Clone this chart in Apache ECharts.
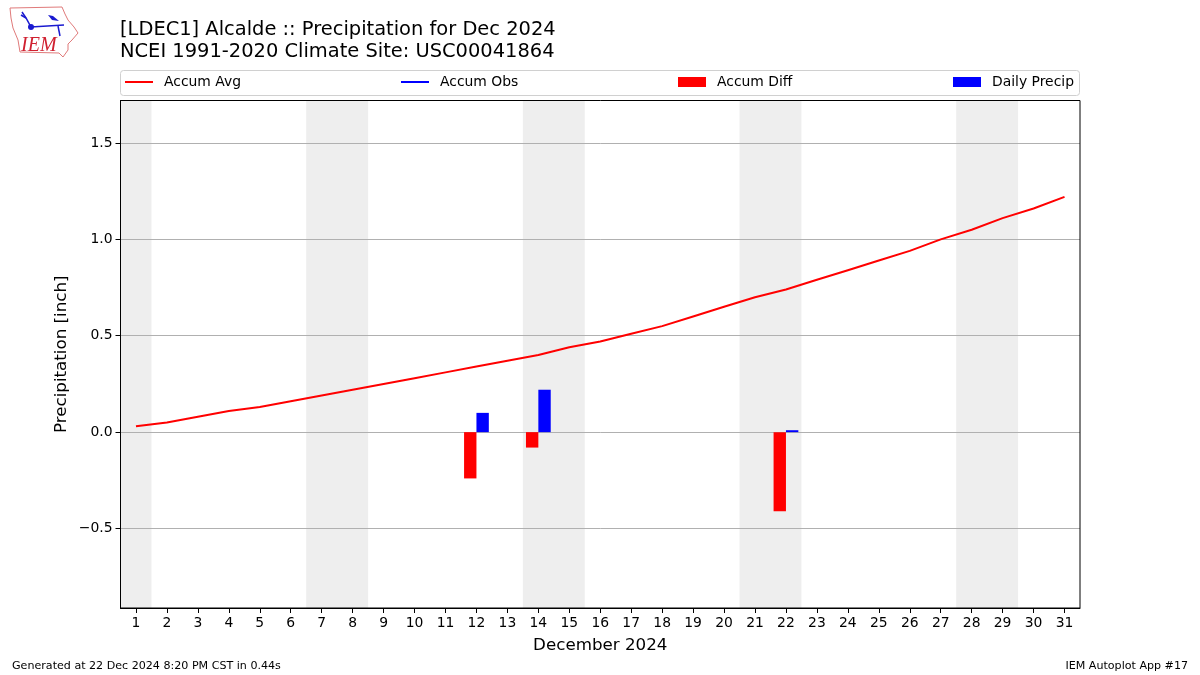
<!DOCTYPE html>
<html>
<head>
<meta charset="utf-8">
<title>Precipitation for Dec 2024</title>
<style>
	html, body { margin: 0; padding: 0; background: #fff; }
	#chart { width: 1200px; height: 675px; }
</style>
<script src="https://cdn.jsdelivr.net/npm/echarts@6/dist/echarts.min.js"></script>
</head>
<body>
<div id="chart"></div>
<script>
	const days = ['1', '2', '3', '4', '5', '6', '7', '8', '9', '10', '11', '12', '13', '14', '15', '16',
		'17', '18', '19', '20', '21', '22', '23', '24', '25', '26', '27', '28', '29', '30', '31'];
	const accumAvg = [0.03, 0.05, 0.08, 0.11, 0.13, 0.16, 0.19, 0.22, 0.25, 0.28, 0.31, 0.34, 0.37, 0.40, 0.44, 0.47,
		0.51, 0.55, 0.60, 0.65, 0.70, 0.74, 0.79, 0.84, 0.89, 0.94, 1.00, 1.05, 1.11, 1.16, 1.22];
	const accumObs = days.map(() => null); // nothing drawn for obs in the reference
	const accumDiff = [null, null, null, null, null, null, null, null, null, null, null, -0.24, null, -0.08, null, null,
		null, null, null, null, null, -0.41, null, null, null, null, null, null, null, null, null];
	const dailyPrecip = [null, null, null, null, null, null, null, null, null, null, null, 0.10, null, 0.22, null, null,
		null, null, null, null, null, 0.01, null, null, null, null, null, null, null, null, null];
	const weekends = [[0.5, 1.5], [6.5, 8.5], [13.5, 15.5], [20.5, 22.5], [27.5, 29.5]];
	const yTicks = [-0.5, 0, 0.5, 1, 1.5];

	const font = '"DejaVu Sans"';
	const chart = echarts.init(document.getElementById('chart'), null, { renderer: 'canvas' });

	// state outline for the logo, page pixels
	const logoOutline = [[10, 8], [62, 7], [65, 14], [68, 20], [74, 27], [78, 33], [72, 40], [68, 44], [68, 50],
		[63, 57], [59, 53], [20, 52], [18, 40], [13, 28], [11, 18]];

	function legendAt(name, left, itemHeight) {
		return {
			data: [name],
			left: left,
			top: 75,
			padding: 0,
			icon: 'rect',
			itemWidth: 28,
			itemHeight: itemHeight,
			itemGap: 0,
			selectedMode: false,
			textStyle: { fontFamily: font, fontSize: 13.9, color: '#000', padding: [0, 0, 0, 6] }
		};
	}

	chart.setOption({
		animation: false,
		backgroundColor: '#fff',
		title: [{
			text: '[LDEC1] Alcalde :: Precipitation for Dec 2024\nNCEI 1991-2020 Climate Site: USC00041864',
			left: 120,
			top: 19,
			padding: 0,
			textStyle: { fontFamily: font, fontSize: 19.45, fontWeight: 'normal', color: '#000', lineHeight: 22 }
		}, {
			text: 'Generated at 22 Dec 2024 8:20 PM CST in 0.44s',
			left: 12,
			top: 661,
			padding: 0,
			textStyle: { fontFamily: font, fontSize: 11.1, fontWeight: 'normal', color: '#000' }
		}, {
			text: 'IEM Autoplot App #17',
			right: 12,
			top: 661,
			padding: 0,
			textStyle: { fontFamily: font, fontSize: 11.1, fontWeight: 'normal', color: '#000' }
		}],
		legend: [
			legendAt('Accum Avg', 125, 2),
			legendAt('Accum Obs', 401, 2),
			legendAt('Accum Diff', 678, 10),
			legendAt('Daily Precip', 953, 10)
		],
		grid: {
			left: 120.5,
			right: 120,
			top: 100.5,
			bottom: 67,
			show: true,
			z: 3,
			backgroundColor: 'transparent',
			borderColor: '#000',
			borderWidth: 1
		},
		xAxis: [{
			type: 'category',
			data: days,
			name: 'December 2024',
			nameLocation: 'middle',
			nameGap: 29,
			nameTextStyle: { fontFamily: font, fontSize: 16.7, color: '#000' },
			axisTick: { show: true, alignWithLabel: true, length: 5, lineStyle: { color: '#000' } },
			axisLine: { show: true, onZero: false, lineStyle: { color: '#000' } },
			axisLabel: { interval: 0, margin: 8, fontFamily: font, fontSize: 13.9, color: '#000' },
			splitLine: { show: false }
		}, {
			// hidden scale so the weekend bands can sit on day boundaries
			type: 'value',
			min: 0.5,
			max: 31.5,
			show: false
		}],
		yAxis: {
			type: 'value',
			min: -0.912,
			max: 1.72,
			z: 1,
			name: 'Precipitation [inch]',
			nameLocation: 'middle',
			nameGap: 50,
			nameMoveOverlap: false,
			nameTextStyle: { fontFamily: font, fontSize: 16.7, color: '#000' },
			axisLine: { show: true, lineStyle: { color: '#000' } },
			axisTick: { show: true, length: 5, lineStyle: { color: '#000' }, customValues: yTicks },
			axisLabel: {
				customValues: yTicks,
				margin: 8,
				fontFamily: font,
				fontSize: 13.9,
				color: '#000',
				formatter: v => v.toFixed(1).replace('-', '\u2212')
			},
			splitLine: { show: true, lineStyle: { color: '#b0b0b0', width: 1 } }
		},
		series: [{
			name: 'weekend',
			type: 'line',
			xAxisIndex: 1,
			data: [],
			z: 0,
			silent: true,
			markArea: {
				silent: true,
				z: 0,
				itemStyle: { color: '#eeeeee' },
				data: weekends.map(w => [{ xAxis: w[0] }, { xAxis: w[1] }])
			}
		}, {
			name: 'Accum Avg',
			type: 'line',
			data: accumAvg,
			symbol: 'none',
			z: 4,
			itemStyle: { color: '#ff0000' },
			lineStyle: { color: '#ff0000', width: 2 }
		}, {
			name: 'Accum Obs',
			type: 'line',
			data: accumObs,
			symbol: 'none',
			z: 4,
			itemStyle: { color: '#0000ff' },
			lineStyle: { color: '#0000ff', width: 2 }
		}, {
			name: 'Accum Diff',
			type: 'bar',
			data: accumDiff,
			barWidth: '40%',
			barGap: 0,
			z: 4,
			itemStyle: { color: '#ff0000' }
		}, {
			name: 'Daily Precip',
			type: 'bar',
			data: dailyPrecip,
			barWidth: '40%',
			barGap: 0,
			z: 4,
			itemStyle: { color: '#0000ff' }
		}],
		graphic: [{
			// legend frame
			type: 'rect',
			shape: { x: 120.5, y: 70.5, width: 959, height: 25, r: 3 },
			style: { fill: '#fff', stroke: '#d0d0d0', lineWidth: 1 },
			z: -1
		}, {
			type: 'polygon',
			shape: { points: logoOutline },
			style: { fill: '#fff', stroke: '#e07a7a', lineWidth: 1 }
		}, {
			type: 'polyline',
			shape: { points: [[22, 12], [26, 18], [31, 27], [64, 25]] },
			style: { fill: 'none', stroke: '#1a1ad0', lineWidth: 1.5 }
		}, {
			type: 'polyline',
			shape: { points: [[21, 15], [26, 18]] },
			style: { fill: 'none', stroke: '#1a1ad0', lineWidth: 1.5 }
		}, {
			type: 'polyline',
			shape: { points: [[58, 26], [60, 36]] },
			style: { fill: 'none', stroke: '#1a1ad0', lineWidth: 1.5 }
		}, {
			type: 'circle',
			shape: { cx: 31, cy: 27, r: 3 },
			style: { fill: '#1a1ad0' }
		}, {
			type: 'polygon',
			shape: { points: [[48, 15], [53, 16], [59, 21], [52, 20]] },
			style: { fill: '#1a1ad0' }
		}, {
			type: 'text',
			x: 21,
			y: 36,
			style: { text: 'IEM', fontFamily: '"Liberation Serif"', fontStyle: 'italic', fontSize: 20, fill: '#d02030' }
		}]
	});
</script>
</body>
</html>
